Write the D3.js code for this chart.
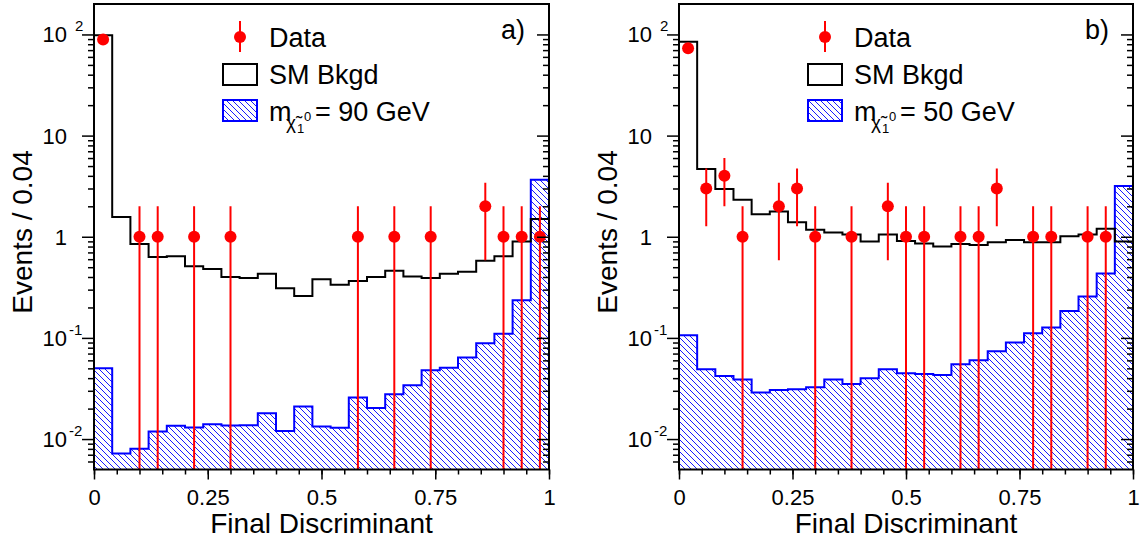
<!DOCTYPE html>
<html>
<head>
<meta charset="utf-8">
<script src="https://cdnjs.cloudflare.com/ajax/libs/d3/7.8.5/d3.min.js"></script>
<style>
body { margin: 0; background: #fff; }
svg text { font-family: "Liberation Sans", Arial, sans-serif; fill: #000; }
</style>
</head>
<body>
<svg id="chart" width="1140" height="547"></svg>
<script>

// bin edges (25 bins of width 0.04)
var binEdges = [0, 0.04, 0.08, 0.12, 0.16, 0.2, 0.24, 0.28, 0.32, 0.36, 0.4, 0.44, 0.48,
                0.52, 0.56, 0.6, 0.64, 0.68, 0.72, 0.76, 0.8, 0.84, 0.88, 0.92, 0.96, 1];

// panel a) : m = 90 GeV
var bkgA = [98, 1.57, 0.85, 0.63, 0.64, 0.51, 0.48, 0.40, 0.39, 0.43, 0.31, 0.26, 0.38,
            0.335, 0.365, 0.40, 0.46, 0.405, 0.39, 0.43, 0.45, 0.58, 0.64, 0.90, 1.5];
var sigA = [0.050, 0.0072, 0.008, 0.0119, 0.0135, 0.013, 0.014, 0.0136, 0.0137, 0.018, 0.012, 0.021, 0.0133,
            0.0129, 0.0258, 0.0203, 0.0277, 0.034, 0.048, 0.0506, 0.064, 0.0887, 0.11, 0.235, 3.66];
var dataXA = [0.02, 0.10, 0.14, 0.22, 0.30, 0.58, 0.66, 0.74, 0.86, 0.90, 0.94, 0.98];
var dataNA = [89, 1, 1, 1, 1, 1, 1, 1, 2, 1, 1, 1];

// panel b) : m = 50 GeV
var bkgB = [84.5, 4.67, 2.96, 2.32, 1.67, 1.78, 1.39, 1.17, 1.10, 1.05, 0.90, 1.05, 0.91,
            0.86, 0.80, 0.85, 0.83, 0.88, 0.93, 0.88, 0.88, 1.01, 1.05, 1.2, 0.9];
var sigB = [0.106, 0.049, 0.042, 0.0387, 0.0288, 0.0306, 0.031, 0.0325, 0.0387, 0.035, 0.040, 0.049, 0.0446,
            0.044, 0.043, 0.055, 0.06, 0.074, 0.09, 0.111, 0.127, 0.185, 0.257, 0.434, 3.17];
var dataXB = [0.02, 0.06, 0.10, 0.14, 0.22, 0.26, 0.30, 0.38, 0.46, 0.50, 0.54, 0.62, 0.66, 0.70, 0.78, 0.82, 0.90, 0.94];
var dataNB = [73, 3, 4, 1, 2, 3, 1, 1, 2, 1, 1, 1, 1, 3, 1, 1, 1, 1];

// axis ticks and labels
var xTicks = [0, 0.25, 0.5, 0.75, 1];
var xTickLabels = ["0", "0.25", "0.5", "0.75", "1"];
var yTicks = [0.01, 0.1, 1, 10, 100];
var yTickBase = ["10", "10", "1", "10", "10"];
var yTickExp = ["-2", "-1", "", "", "2"];

var svg = d3.select("#chart");

// hatch pattern for the signal
var defs = svg.append("defs");
var pat = defs.append("pattern")
    .attr("id", "hatch")
    .attr("patternUnits", "userSpaceOnUse")
    .attr("width", 6)
    .attr("height", 6);
pat.append("path")
    .attr("d", "M-1,-1 L7,7 M-1,5 L1,7 M5,-1 L7,1")
    .attr("stroke", "#0000ff")
    .attr("stroke-width", 0.9);

drawPanel({ id: "a", left: 94, right: 549, top: 4, bottom: 469.5,
            bkg: bkgA, sig: sigA, dx: dataXA, dn: dataNA, label: "a)", mass: "90" });
drawPanel({ id: "b", left: 679, right: 1133, top: 4, bottom: 469.5,
            bkg: bkgB, sig: sigB, dx: dataXB, dn: dataNB, label: "b)", mass: "50" });

function stepPoints(vals) {
    var pts = [];
    vals.forEach(function(v, i) {
        pts.push([binEdges[i], v]);
        pts.push([binEdges[i + 1], v]);
    });
    return pts;
}

function drawPanel(o) {
    var x = d3.scaleLinear().domain([0, 1]).range([o.left, o.right]);
    var y = d3.scaleLog().domain([0.005, 200]).range([o.bottom, o.top]);
    var g = svg.append("g");

    defs.append("clipPath").attr("id", "clip" + o.id)
        .append("rect")
        .attr("x", o.left).attr("y", o.top)
        .attr("width", o.right - o.left).attr("height", o.bottom - o.top);

    var plot = g.append("g").attr("clip-path", "url(#clip" + o.id + ")");

    // signal (hatched)
    var sp = stepPoints(o.sig);
    var area = d3.area()
        .x(function(d) { return x(d[0]); })
        .y0(o.bottom)
        .y1(function(d) { return y(d[1]); });
    plot.append("path")
        .attr("d", area(sp))
        .attr("fill", "url(#hatch)");
    var line = d3.line()
        .x(function(d) { return x(d[0]); })
        .y(function(d) { return y(d[1]); });
    var outline = [[0, 0.004]].concat(sp).concat([[1, 0.004]]);
    plot.append("path")
        .attr("d", line(outline))
        .attr("fill", "none")
        .attr("stroke", "#0000ff")
        .attr("stroke-width", 2);

    // SM background
    plot.append("path")
        .attr("d", line(stepPoints(o.bkg)))
        .attr("fill", "none")
        .attr("stroke", "#000")
        .attr("stroke-width", 2);

    // data points with sqrt(n) errors
    o.dx.forEach(function(v, i) {
        var n = o.dn[i];
        var err = Math.sqrt(n);
        var lo = n - err > 0.005 ? y(n - err) : o.bottom + 5;
        plot.append("line")
            .attr("x1", x(v)).attr("x2", x(v))
            .attr("y1", y(n + err)).attr("y2", lo)
            .attr("stroke", "#ff0000")
            .attr("stroke-width", 2);
        plot.append("circle")
            .attr("cx", x(v)).attr("cy", y(n))
            .attr("r", 6)
            .attr("fill", "#ff0000");
    });

    // frame
    g.append("rect")
        .attr("x", o.left).attr("y", o.top)
        .attr("width", o.right - o.left).attr("height", o.bottom - o.top)
        .attr("fill", "none")
        .attr("stroke", "#000")
        .attr("stroke-width", 2);

    // y axis ticks (log minors)
    var minors = [];
    [-3, -2, -1, 0, 1, 2].forEach(function(d) {
        for (var k = 2; k <= 9; k++) {
            var v = k * Math.pow(10, d);
            if (v > 0.005 && v < 200) minors.push(v);
        }
    });

    // left: ticks outside, right: ticks inside
    var yl = g.append("g").attr("transform", "translate(" + o.left + ",0)");
    yl.call(d3.axisLeft(y).tickValues(minors).tickSize(6).tickFormat(""));
    var yl2 = g.append("g").attr("transform", "translate(" + o.left + ",0)");
    yl2.call(d3.axisLeft(y).tickValues(yTicks).tickSize(12).tickFormat(""));
    var yr = g.append("g").attr("transform", "translate(" + o.right + ",0)");
    yr.call(d3.axisRight(y).tickValues(minors).tickSize(-6).tickFormat(""));
    var yr2 = g.append("g").attr("transform", "translate(" + o.right + ",0)");
    yr2.call(d3.axisRight(y).tickValues(yTicks).tickSize(-12).tickFormat(""));
    g.selectAll(".domain").remove();

    // y tick labels with exponents
    yTicks.forEach(function(v, i) {
        g.append("text")
            .attr("x", o.left - 27)
            .attr("y", y(v) + 8)
            .attr("font-size", 22)
            .attr("text-anchor", "end")
            .text(yTickBase[i]);
        if (yTickExp[i] !== "") {
            g.append("text")
                .attr("x", o.left - 25 + (yTickExp[i] === "2" ? 6 : 0))
                .attr("y", y(v) - 3)
                .attr("font-size", 15)
                .text(yTickExp[i]);
        }
    });

    // x axis
    var xa = g.append("g").attr("transform", "translate(0," + o.bottom + ")");
    xa.call(d3.axisBottom(x).tickValues(d3.range(0, 1.0001, 0.05)).tickSize(5).tickFormat(""));
    var xm = g.append("g").attr("transform", "translate(0," + o.bottom + ")");
    xm.call(d3.axisBottom(x).tickValues(xTicks).tickSize(10).tickPadding(10)
        .tickFormat(function(d, i) { return xTickLabels[i]; }));
    xa.select(".domain").remove();
    xm.select(".domain").remove();
    g.selectAll(".tick line").attr("stroke", "#000").attr("stroke-width", 1.5);
    xm.selectAll("text")
        .attr("font-size", 22)
        .attr("font-family", "Liberation Sans, Arial, sans-serif");

    // axis titles
    g.append("text")
        .attr("x", (o.left + o.right) / 2)
        .attr("y", 533)
        .attr("text-anchor", "middle")
        .attr("font-size", 28)
        .text("Final Discriminant");
    g.append("text")
        .attr("transform", "translate(" + (o.left - 62) + ",232) rotate(-90)")
        .attr("text-anchor", "middle")
        .attr("font-size", 28)
        .text("Events / 0.04");

    // panel label
    g.append("text")
        .attr("x", o.right - 24)
        .attr("y", 39)
        .attr("text-anchor", "end")
        .attr("font-size", 27)
        .text(o.label);

    // legend
    var L = o.left;
    g.append("line")
        .attr("x1", L + 146).attr("x2", L + 146)
        .attr("y1", 21).attr("y2", 52)
        .attr("stroke", "#ff0000").attr("stroke-width", 2);
    g.append("circle")
        .attr("cx", L + 146).attr("cy", 37).attr("r", 6)
        .attr("fill", "#ff0000");
    g.append("text").attr("x", L + 175).attr("y", 47).attr("font-size", 27).text("Data");

    g.append("rect")
        .attr("x", L + 129).attr("y", 64)
        .attr("width", 34).attr("height", 21)
        .attr("fill", "none").attr("stroke", "#000").attr("stroke-width", 2);
    g.append("text").attr("x", L + 175).attr("y", 84).attr("font-size", 27).text("SM Bkgd");

    g.append("rect")
        .attr("x", L + 129).attr("y", 100)
        .attr("width", 34).attr("height", 21)
        .attr("fill", "url(#hatch)").attr("stroke", "#0000ff").attr("stroke-width", 2);

    // m with chi~ subscript, built as one text
    var mt = g.append("text").attr("x", L + 175).attr("y", 121).attr("font-size", 27);
    mt.append("tspan").text("m");
    mt.append("tspan").attr("x", L + 192).attr("y", 129).attr("font-size", 19).text("\u03c7\u0303");
    mt.append("tspan").attr("x", L + 203).attr("y", 133).attr("font-size", 13).text("1");
    mt.append("tspan").attr("x", L + 210).attr("y", 121).attr("font-size", 13).text("0");
    mt.append("tspan").attr("x", L + 221).attr("y", 121).text("= " + o.mass + " GeV");
}

</script>
</body>
</html>
